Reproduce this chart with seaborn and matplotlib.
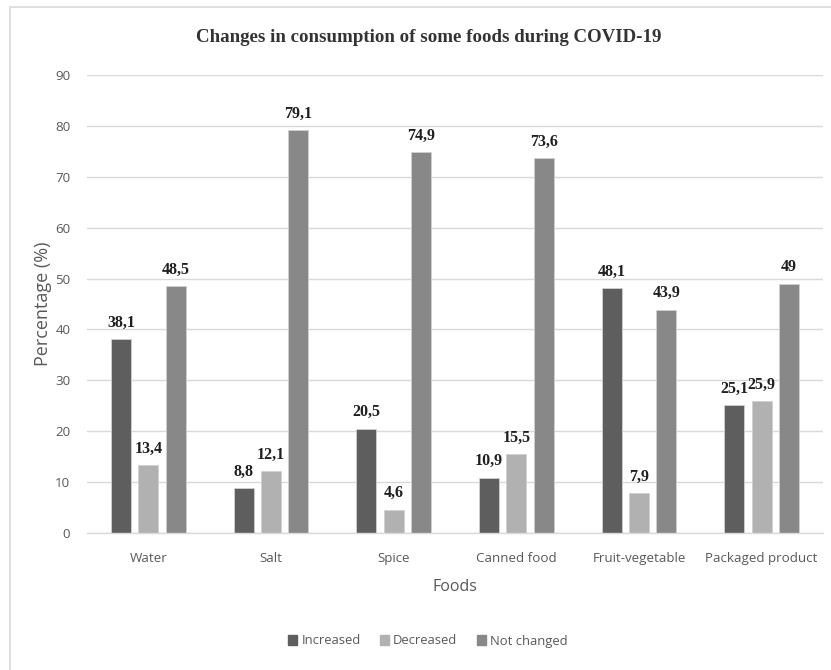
import matplotlib
matplotlib.use("Agg")
import matplotlib.pyplot as plt
from matplotlib.patches import Rectangle
import seaborn as sns
import pandas as pd

foods = ["Water", "Salt", "Spice", "Canned food", "Fruit-vegetable", "Packaged product"]
increased = [38.1, 8.8, 20.5, 10.9, 48.1, 25.1]
decreased = [13.4, 12.1, 4.6, 15.5, 7.9, 25.9]
not_changed = [48.5, 79.1, 74.9, 73.6, 43.9, 49.0]
series_names = ["Increased", "Decreased", "Not changed"]
series_colors = ["#5e5e5e", "#b1b1b1", "#888888"]

rows = []
for name, vals in zip(series_names, [increased, decreased, not_changed]):
    for food, v in zip(foods, vals):
        rows.append({"Foods": food, "Change": name, "Percentage": v})
df = pd.DataFrame(rows)

sns.set_theme(style="white")
plt.rcParams["font.family"] = ["Open Sans", "DejaVu Sans"]

fig = plt.figure(figsize=(8.31, 6.7), dpi=100)
ax = fig.add_axes([87 / 831, 1 - 533 / 670, (823 - 87) / 831, (533 - 75) / 670])

sns.barplot(data=df, x="Foods", y="Percentage", hue="Change", order=foods,
            hue_order=series_names, palette=series_colors, width=0.67, gap=0.27,
            edgecolor="#d0d0d0", linewidth=0.6, saturation=1, ax=ax)

ax.set_ylim(0, 90)
ax.set_yticks(range(0, 91, 10))
ax.grid(axis="y", color="#d9d9d9", linewidth=1.0)
ax.set_axisbelow(True)
for side in ["top", "right", "left"]:
    ax.spines[side].set_visible(False)
ax.spines["bottom"].set_color("#d9d9d9")
ax.spines["bottom"].set_linewidth(1.0)
ax.tick_params(axis="both", length=0, labelsize=9.6, labelcolor="#595959")
ax.tick_params(axis="x", pad=14)
ax.tick_params(axis="y", pad=12)

ax.set_xlabel("Foods", fontsize=11.5, color="#595959", labelpad=10)
ax.set_ylabel("Percentage (%)", fontsize=13, color="#595959", labelpad=2)

for container in ax.containers:
    labels = [f"{v:g}".replace(".", ",") for v in container.datavalues]
    ax.bar_label(container, labels=labels, padding=6, fontsize=11.5,
                 fontweight="bold", family="Liberation Serif", color="#1f1f1f")

ax.legend_.remove()
handles = [Rectangle((0, 0), 1, 1, color=c) for c in series_colors]
fig.legend(handles, series_names, loc="center", bbox_to_anchor=(428 / 831, 1 - 641 / 670),
           ncol=3, frameon=False, fontsize=9.4, labelcolor="#595959",
           handlelength=0.7, handleheight=0.7, handletextpad=0.3, columnspacing=1.5)

fig.text(429 / 831, 1 - 38 / 670, "Changes in consumption of some foods during COVID-19",
         ha="center", va="center", fontsize=13.6, fontweight="bold",
         family="Liberation Serif", color="#333333")

fig.patches.append(Rectangle((10 / 831, -0.05), 1.1, 1.05 - 7 / 670,
                             transform=fig.transFigure, fill=False,
                             edgecolor="#d9d9d9", linewidth=1.2))

fig.savefig("out.png", dpi=100)
